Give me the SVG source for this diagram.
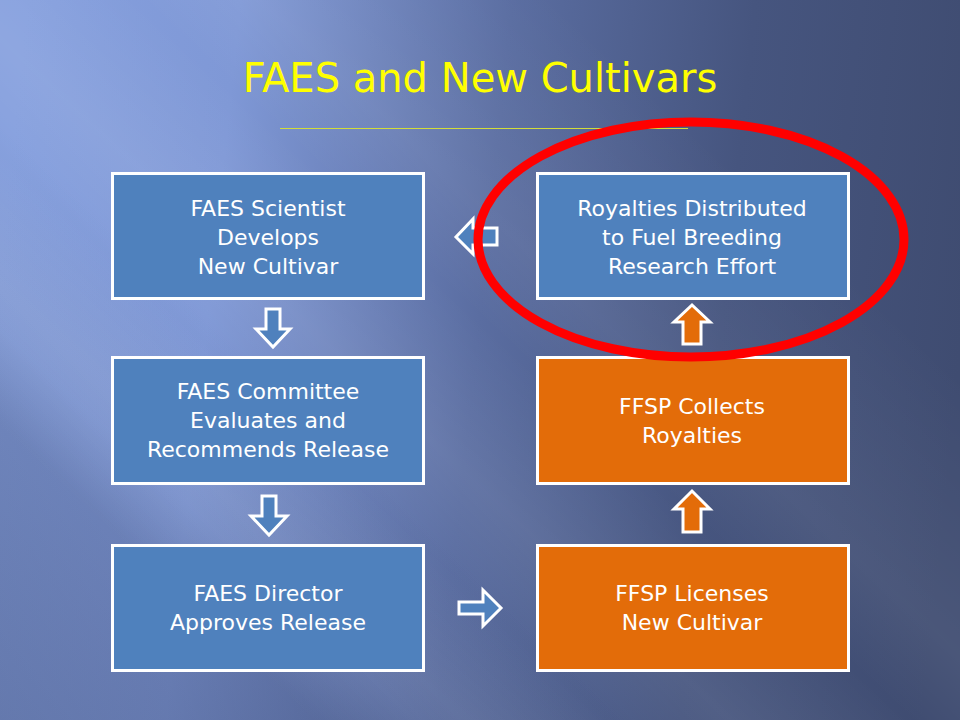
<svg xmlns="http://www.w3.org/2000/svg" width="960" height="720" viewBox="0 0 960 720">
  <defs>
    <linearGradient id="bg" x1="0" y1="260" x2="960" y2="360" gradientUnits="userSpaceOnUse">
      <stop offset="0" stop-color="#86a0de"/>
      <stop offset="0.22" stop-color="#7f98d6"/>
      <stop offset="0.5" stop-color="#5a6da1"/>
      <stop offset="0.75" stop-color="#46557f"/>
      <stop offset="1" stop-color="#3f4c71"/>
    </linearGradient>
    <linearGradient id="dark" x1="300" y1="400" x2="0" y2="720" gradientUnits="userSpaceOnUse">
      <stop offset="0" stop-color="#1a2240" stop-opacity="0"/>
      <stop offset="0.35" stop-color="#1a2240" stop-opacity="0.08"/>
      <stop offset="0.5" stop-color="#1a2240" stop-opacity="0.22"/>
      <stop offset="1" stop-color="#1a2240" stop-opacity="0.3"/>
    </linearGradient>
    <linearGradient id="streaks" x1="560" y1="0" x2="0" y2="600" gradientUnits="userSpaceOnUse">
      <stop offset="0" stop-color="#ffffff" stop-opacity="0"/>
      <stop offset="0.25" stop-color="#ffffff" stop-opacity="0.06"/>
      <stop offset="0.35" stop-color="#ffffff" stop-opacity="0"/>
      <stop offset="0.5" stop-color="#ffffff" stop-opacity="0.07"/>
      <stop offset="0.6" stop-color="#ffffff" stop-opacity="0.01"/>
      <stop offset="0.72" stop-color="#ffffff" stop-opacity="0.08"/>
      <stop offset="0.85" stop-color="#ffffff" stop-opacity="0"/>
    </linearGradient>
  </defs>
  <style>
    .box-blue { fill: #4f81bd; stroke: #ffffff; stroke-width: 3; }
    .box-orange { fill: #e36c09; stroke: #ffffff; stroke-width: 3; }
    .label { font-family: "DejaVu Sans", Verdana, sans-serif; font-size: 22px; fill: #ffffff; text-anchor: middle; }
    .arrow-blue { fill: #4f81bd; stroke: #ffffff; stroke-width: 3; stroke-linejoin: miter; }
    .arrow-orange { fill: #e36c09; stroke: #ffffff; stroke-width: 3; stroke-linejoin: miter; }
  </style>

  <rect x="0" y="0" width="960" height="720" fill="url(#bg)"/>
  <rect x="0" y="0" width="960" height="720" fill="url(#dark)"/>
  <rect x="0" y="0" width="960" height="720" fill="url(#streaks)"/>

  <g id="title">
    <text x="480" y="92" font-family="'DejaVu Sans', Verdana, sans-serif" font-size="40" fill="#ffff00" text-anchor="middle">FAES and New Cultivars</text>
    <line x1="280" y1="128.5" x2="688" y2="128.5" stroke="#d2dc3a" stroke-width="1"/>
  </g>

  <g id="node-scientist">
    <rect class="box-blue" x="112.5" y="173.5" width="311" height="125"/>
    <text class="label" x="268" y="216">FAES Scientist</text>
    <text class="label" x="268" y="245">Develops</text>
    <text class="label" x="268" y="274">New Cultivar</text>
  </g>
  <g id="node-committee">
    <rect class="box-blue" x="112.5" y="357.5" width="311" height="126"/>
    <text class="label" x="268" y="399">FAES Committee</text>
    <text class="label" x="268" y="428">Evaluates and</text>
    <text class="label" x="268" y="457">Recommends Release</text>
  </g>
  <g id="node-director">
    <rect class="box-blue" x="112.5" y="545.5" width="311" height="125"/>
    <text class="label" x="268" y="601">FAES Director</text>
    <text class="label" x="268" y="630">Approves Release</text>
  </g>
  <g id="node-royalties">
    <rect class="box-blue" x="537.5" y="173.5" width="311" height="125"/>
    <text class="label" x="692" y="216">Royalties Distributed</text>
    <text class="label" x="692" y="245">to Fuel Breeding</text>
    <text class="label" x="692" y="274">Research Effort</text>
  </g>
  <g id="node-collects">
    <rect class="box-orange" x="537.5" y="357.5" width="311" height="126"/>
    <text class="label" x="692" y="414">FFSP Collects</text>
    <text class="label" x="692" y="443">Royalties</text>
  </g>
  <g id="node-licenses">
    <rect class="box-orange" x="537.5" y="545.5" width="311" height="125"/>
    <text class="label" x="692" y="601">FFSP Licenses</text>
    <text class="label" x="692" y="630">New Cultivar</text>
  </g>

  <g id="connectors">
    <path class="arrow-blue" d="M266,309 H280 V329 H290 L273,347 L256,329 H266 Z"/>
    <path class="arrow-blue" d="M262,496 H276 V516 H287 L269,535 L251,516 H262 Z"/>
    <path class="arrow-blue" d="M459,602 H483 V590 L501,608 L483,626 V614 H459 Z"/>
    <path class="arrow-orange" d="M683,532 V509 H674 L692,491 L710,509 H701 V532 Z"/>
    <path class="arrow-orange" d="M683,344 V322 H674 L692,305 L710,322 H701 V344 Z"/>
    <path class="arrow-blue" d="M497,228 H473 V219 L456,237 L473,254 V245 H497 Z"/>
  </g>

  <g id="highlight">
    <ellipse cx="691" cy="239.5" rx="213" ry="117.5" fill="none" stroke="#ff0000" stroke-width="9"/>
  </g>
</svg>
